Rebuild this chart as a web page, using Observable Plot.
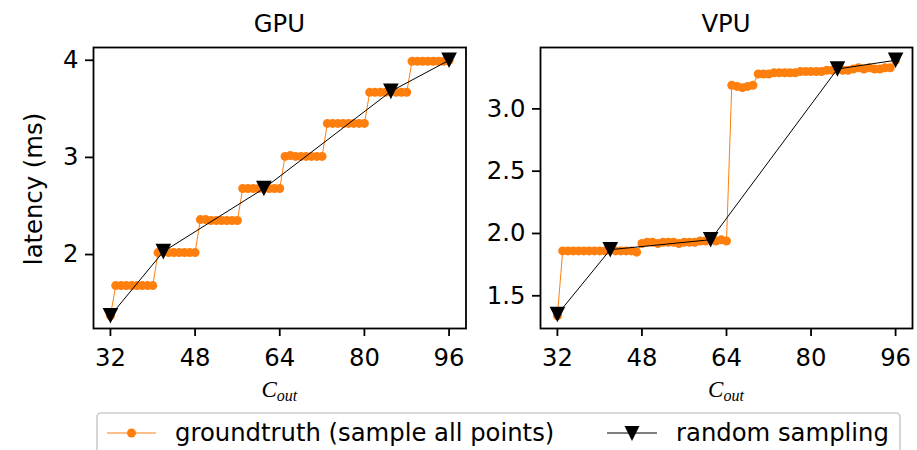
<!DOCTYPE html>
<html><head><meta charset="utf-8">
<script src="https://cdn.jsdelivr.net/npm/d3@7"></script>
<script src="https://cdn.jsdelivr.net/npm/@observablehq/plot@0.6"></script>
<style>
html,body{margin:0;padding:0;background:#fff;}
#wrap{position:relative;width:917px;height:450px;overflow:hidden;font-family:"DejaVu Sans",sans-serif;}
#wrap > svg{position:absolute;top:0;}
</style></head><body><div id="wrap"></div>
<script>
const channels = [32,33,34,35,36,37,38,39,40,41,42,43,44,45,46,47,48,49,50,51,52,53,54,55,56,57,58,59,60,61,62,63,64,65,66,67,68,69,70,71,72,73,74,75,76,77,78,79,80,81,82,83,84,85,86,87,88,89,90,91,92,93,94,95,96];
const gpuTruth = [1.37,
  1.68,1.68,1.68,1.68,1.68,1.68,1.68,1.68,
  2.02,2.03,2.02,2.02,2.02,2.02,2.02,2.02,
  2.36,2.36,2.35,2.35,2.35,2.35,2.35,2.35,
  2.68,2.68,2.68,2.68,2.68,2.68,2.68,2.68,
  3.01,3.02,3.01,3.01,3.01,3.01,3.01,3.01,
  3.35,3.35,3.35,3.35,3.35,3.35,3.35,3.35,
  3.67,3.67,3.67,3.67,3.68,3.67,3.67,3.67,
  3.99,3.99,3.99,3.99,3.99,3.99,3.99,4.00];
const vpuTruth = [1.34,
  1.86,1.86,1.86,1.86,1.86,1.86,1.86,1.86,1.86,1.87,1.86,1.86,1.86,1.86,1.85,
  1.92,1.93,1.93,1.92,1.93,1.93,1.93,1.92,1.93,1.93,1.93,1.94,1.94,1.95,1.94,1.95,1.94,
  3.19,3.18,3.17,3.18,3.19,
  3.28,3.28,3.28,3.29,3.29,3.29,3.29,3.29,3.30,3.30,3.30,3.30,3.30,3.31,3.31,
  3.32,3.31,3.31,3.32,3.33,3.32,3.33,3.32,3.32,3.33,3.33,3.39];
const sampleChannels = [32,42,61,85,96];
const gpuSampled = [1.37,2.03,2.68,3.68,4.00];
const vpuSampled = [1.35,1.87,1.95,3.32,3.39];
const panelTitles = ["GPU","VPU"];
const xTicks = [32,48,64,80,96];
const gpuYTicks = [2,3,4];
const vpuYTicks = [1.5,2.0,2.5,3.0];
const yLabel = "latency (ms)";
const legendLabels = ["groundtruth (sample all points)","random sampling"];

const ORANGE = "#ff7f0e";
const FONT = 24.3;
const triDown = {draw(ctx, size){const r=Math.sqrt(size/Math.PI);ctx.moveTo(0,r);ctx.lineTo(-r,-r);ctx.lineTo(r,-r);ctx.closePath();}};
function padded(vals){const [a,b]=d3.extent(vals);const p=(b-a)*0.05;return [a-p,b+p];}

function panel(truth, sampled, yTicks, fmt, o){
  const gt = channels.map((c,i)=>({c, v: truth[i]}));
  const rs = sampleChannels.map((c,i)=>({c, v: sampled[i]}));
  const svg = Plot.plot({
    width:o.width, height:450,
    marginLeft:o.ml, marginRight:o.mr, marginTop:47, marginBottom:122,
    x:{domain:padded(channels)},
    y:{domain:padded([...truth,...sampled])},
    style:{fontSize:FONT+"px", fontFamily:"'DejaVu Sans'", color:"black", background:"none", overflow:"visible"},
    marks:[
      Plot.line(gt,{x:"c",y:"v",stroke:ORANGE,strokeWidth:1}),
      Plot.dot(gt,{x:"c",y:"v",r:4.5,fill:ORANGE,stroke:"none"}),
      Plot.line(rs,{x:"c",y:"v",stroke:"black",strokeWidth:1}),
      Plot.dot(rs,{x:"c",y:"v",r:7.8,symbol:triDown,fill:"black",stroke:"none"}),
      Plot.frame({stroke:"black",strokeWidth:1.8}),
      Plot.axisX({ticks:xTicks,tickSize:8,tickPadding:12,strokeWidth:1.8,label:null,tickFormat:d=>String(d)}),
      Plot.axisY({ticks:yTicks,tickSize:8,tickPadding:7,strokeWidth:1.8,label:null,tickFormat:fmt})
    ]
  });
  svg.style.left = o.left+"px";
  return svg;
}

const wrap = document.getElementById("wrap");
wrap.appendChild(panel(gpuTruth,gpuSampled,gpuYTicks,d=>String(d),{width:470,ml:93,mr:4.5,left:0}));
wrap.appendChild(panel(vpuTruth,vpuSampled,vpuYTicks,d3.format(".1f"),{width:447,ml:70,mr:5,left:470}));

const ov = d3.select(wrap).append("svg").attr("width",917).attr("height",450)
  .style("position","absolute").style("left","0px").style("top","0px")
  .attr("font-family","'DejaVu Sans'").attr("font-size",FONT);
const centers=[279.3,726];
panelTitles.forEach((t,i)=>ov.append("text").attr("x",centers[i]).attr("y",31.5).attr("text-anchor","middle").text(t));
ov.append("text").attr("transform","translate(42,189) rotate(-90)").attr("text-anchor","middle").text(yLabel);
centers.forEach(cx=>{
  const t=ov.append("text").attr("x",cx).attr("y",396.5).attr("text-anchor","middle")
    .attr("font-family","'Liberation Serif'").attr("font-style","italic").attr("font-size",23);
  t.append("tspan").text("C");
  t.append("tspan").attr("font-size",16).attr("dy",4.5).text("out");
});
// legend
ov.append("rect").attr("x",97).attr("y",413).attr("width",803).attr("height",60).attr("rx",4)
  .attr("fill","white").attr("stroke","#cccccc").attr("stroke-width",1.6);
ov.append("line").attr("x1",107).attr("x2",156).attr("y1",433).attr("y2",433).attr("stroke",ORANGE).attr("stroke-width",1);
ov.append("circle").attr("cx",131.5).attr("cy",433).attr("r",4.5).attr("fill",ORANGE);
ov.append("text").attr("x",175).attr("y",441).text(legendLabels[0]);
ov.append("line").attr("x1",607).attr("x2",657).attr("y1",433).attr("y2",433).attr("stroke","black").attr("stroke-width",1);
ov.append("path").attr("d","M632,441L624.5,426L639.5,426Z").attr("fill","black");
ov.append("text").attr("x",676).attr("y",441).text(legendLabels[1]);
</script></body></html>
